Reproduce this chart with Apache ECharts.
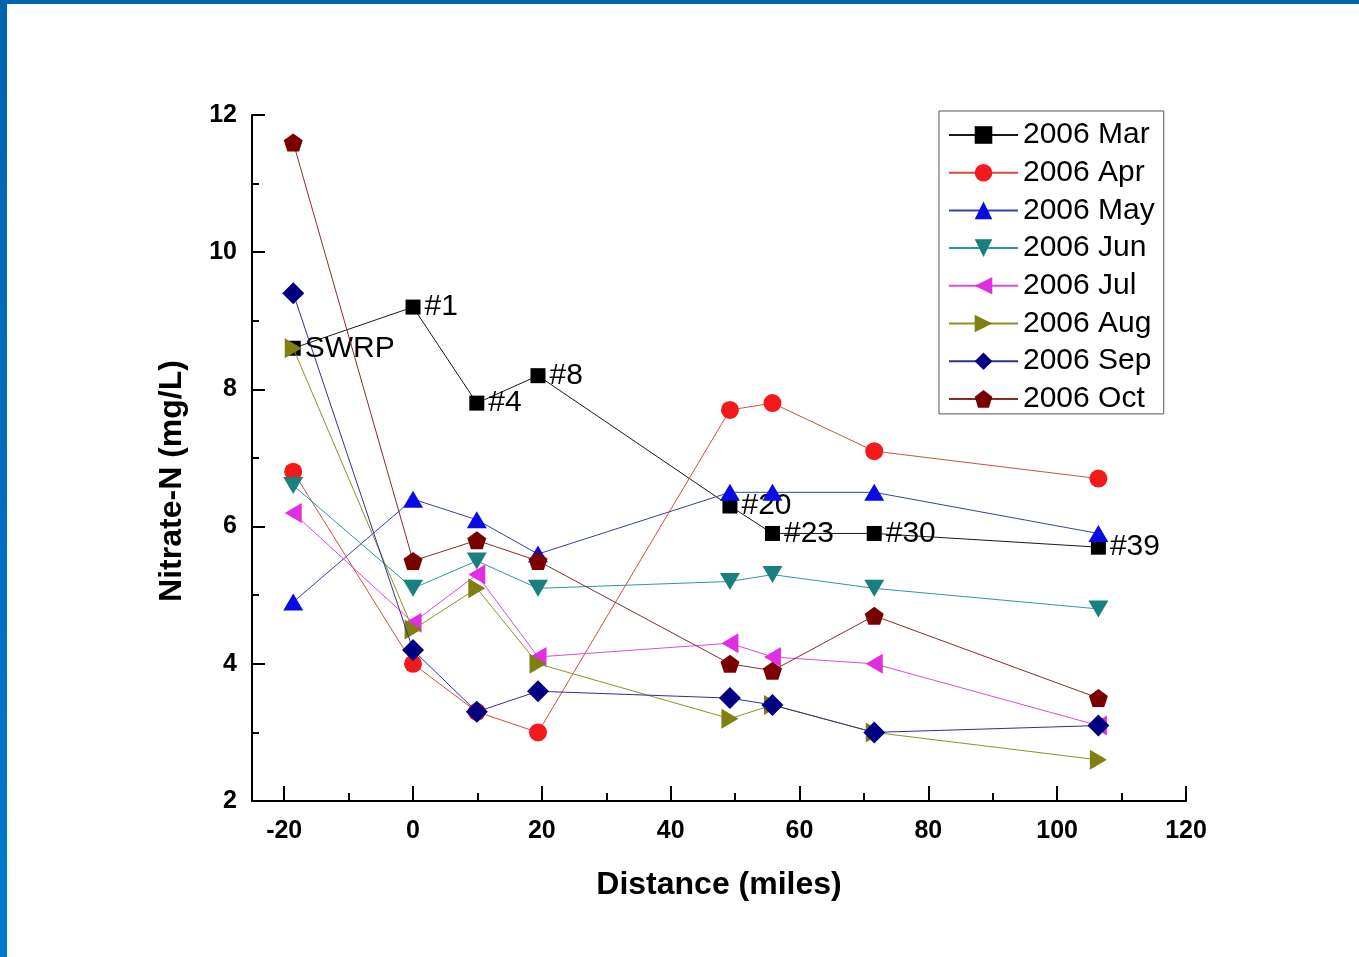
<!DOCTYPE html>
<html>
<head>
<meta charset="utf-8">
<script src="https://cdn.jsdelivr.net/npm/echarts@6/dist/echarts.min.js"></script>
<style>
  html, body { margin: 0; padding: 0; background: #fff; }
  #chart { position: absolute; left: 0; top: 0; width: 1359px; height: 957px; }
  #bTop { position: absolute; left: 0; top: 0; width: 1359px; height: 4px; background: #0066b2; z-index: 5; }
  #bLeft { position: absolute; left: 0; top: 0; width: 7px; height: 957px; background: linear-gradient(#0063ad, #0079cd); z-index: 5; }
</style>
</head>
<body>
<div id="chart"></div>
<div id="bTop"></div>
<div id="bLeft"></div>
<script>
// ---- data ----
const distance = [-18.6, 0, 9.9, 19.4, 49.2, 55.8, 71.6, 106.4];
const sites = ['SWRP', '#1', '#4', '#8', '#20', '#23', '#30', '#39'];
const mar = [8.6, 9.2, 7.8, 8.2, 6.3, 5.9, 5.9, 5.7];
const apr = [6.8, 4.0, 3.3, 3.0, 7.7, 7.8, 7.1, 6.7];
const may = [4.9, 6.4, 6.1, 5.6, 6.5, 6.5, 6.5, 5.9];
const jun = [6.6, 5.1, 5.5, 5.1, 5.2, 5.3, 5.1, 4.8];
const jul = [6.2, 4.6, 5.3, 4.1, 4.3, 4.1, 4.0, 3.1];
const aug = [8.6, 4.5, 5.1, 4.0, 3.2, 3.4, 3.0, 2.6];
const sep = [9.4, 4.2, 3.3, 3.6, 3.5, 3.4, 3.0, 3.1];
const oct = [11.6, 5.5, 5.8, 5.5, 4.0, 3.9, 4.7, 3.5];
const seriesNames = ['2006 Mar', '2006 Apr', '2006 May', '2006 Jun', '2006 Jul', '2006 Aug', '2006 Sep', '2006 Oct'];
const xMajorTicks = [-20, 0, 20, 40, 60, 80, 100, 120];
const xMinorTicks = [-10, 10, 30, 50, 70, 90, 110];

const FONT = "'Liberation Sans', Arial, Helvetica, sans-serif";
const pentagon = 'path://M0,-10 L9.511,-3.09 L5.878,8.09 L-5.878,8.09 L-9.511,-3.09 Z';

const styles = [
  { values: mar, symbol: 'rect', size: 15, rotate: 0, fill: '#000000', line: '#1a1a1a' },
  { values: apr, symbol: 'circle', size: 18, rotate: 0, fill: '#f21a1a', line: '#d2503a' },
  { values: may, symbol: 'triangle', size: [20, 17], rotate: 0, fill: '#0a0ae6', line: '#34449e' },
  { values: jun, symbol: 'triangle', size: [20, 17], rotate: 180, fill: '#1a7f7f', line: '#2a9a9a' },
  { values: jul, symbol: 'triangle', size: [20, 17], rotate: 90, fill: '#e22ee2', line: '#dd4add' },
  { values: aug, symbol: 'triangle', size: [20, 17], rotate: -90, fill: '#7f7f12', line: '#8f8f2a' },
  { values: sep, symbol: 'diamond', size: 22, rotate: 0, fill: '#000080', line: '#303090' },
  { values: oct, symbol: pentagon, size: [19, 18], rotate: 0, fill: '#7a0000', line: '#8a2a2a' }
];

const series = styles.map((s, i) => {
  const o = {
    name: seriesNames[i],
    type: 'line',
    data: s.values.map((v, j) => [distance[j], v]),
    symbol: s.symbol,
    symbolSize: s.size,
    symbolRotate: s.rotate,
    showAllSymbol: true,
    itemStyle: { color: s.fill, borderWidth: 0 },
    lineStyle: { color: s.line, width: 1 },
    emphasis: { disabled: true },
    animation: false,
    z: 2 + i
  };
  if (i === 0) {
    o.label = {
      show: true,
      position: 'right',
      distance: 4,
      fontFamily: FONT,
      fontSize: 30,
      color: '#000',
      formatter: p => sites[p.dataIndex]
    };
  }
  return o;
});

const chart = echarts.init(document.getElementById('chart'), null, { renderer: 'canvas' });
chart.setOption({
  backgroundColor: '#ffffff',
  animation: false,
  grid: { left: 252, top: 115, width: 934, height: 686, containLabel: false },
  legend: {
    orient: 'vertical',
    left: 939,
    top: 111,
    padding: [9, 9, 0, 9],
    borderColor: '#555',
    borderWidth: 1,
    itemWidth: 69,
    itemHeight: 22,
    itemGap: 7.7,
    itemTextGap: 11,
    symbolRotate: 'inherit',
    textStyle: { fontFamily: FONT, fontSize: 30, color: '#000' },
    data: seriesNames
  },
  xAxis: [
    {
      type: 'value',
      min: -25,
      max: 120,
      name: 'Distance (miles)',
      nameLocation: 'middle',
      nameGap: 68,
      nameTextStyle: { fontFamily: FONT, fontSize: 32, fontWeight: 'bold', color: '#000' },
      axisLine: { show: true, onZero: false, lineStyle: { color: '#000', width: 2 } },
      axisTick: { show: true, inside: true, length: 15, customValues: xMajorTicks, lineStyle: { color: '#000', width: 2 } },
      axisLabel: { show: true, margin: 18, customValues: xMajorTicks, fontFamily: FONT, fontSize: 25, fontWeight: 'bold', color: '#000' },
      splitLine: { show: false }
    },
    {
      type: 'value',
      min: -25,
      max: 120,
      position: 'bottom',
      offset: 0,
      axisLine: { show: false },
      axisTick: { show: true, inside: true, length: 8, customValues: xMinorTicks, lineStyle: { color: '#000', width: 2 } },
      axisLabel: { show: false },
      splitLine: { show: false }
    }
  ],
  yAxis: {
    type: 'value',
    min: 2,
    max: 12,
    interval: 2,
    name: 'Nitrate-N (mg/L)',
    nameLocation: 'middle',
    nameGap: 64,
    nameRotate: 90,
    nameTextStyle: { fontFamily: FONT, fontSize: 32, fontWeight: 'bold', color: '#000', padding: [0, 46, 0, 0] },
    axisLine: { show: true, onZero: false, lineStyle: { color: '#000', width: 2 } },
    axisTick: { show: true, inside: true, length: 13, lineStyle: { color: '#000', width: 2 } },
    minorTick: { show: true, splitNumber: 2, length: 7, lineStyle: { color: '#000', width: 2 } },
    axisLabel: { show: true, margin: 15, fontFamily: FONT, fontSize: 25, fontWeight: 'bold', color: '#000' },
    splitLine: { show: false },
    minorSplitLine: { show: false }
  },
  series: series
});
</script>
</body>
</html>
